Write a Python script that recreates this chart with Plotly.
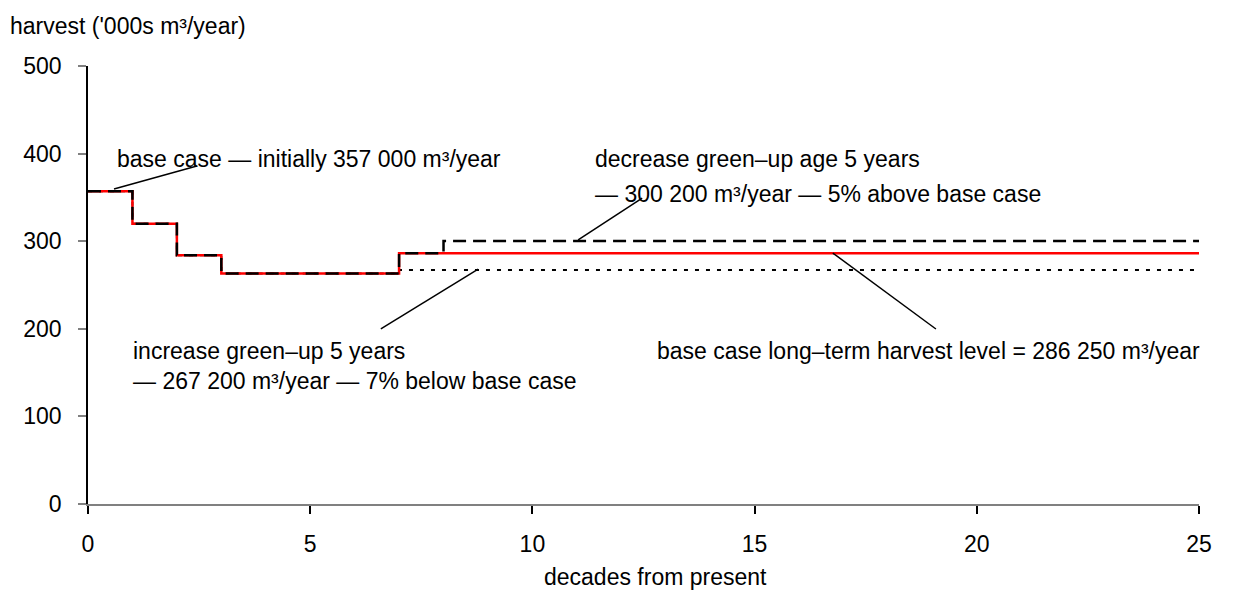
import plotly.graph_objects as go

# Decade breakpoints (start of each period; last point closes the horizon)
decades = [0, 1, 2, 3, 7, 8, 25]
base_case = [357, 320, 284, 263, 286.25, 286.25, 286.25]
decrease_greenup = [357, 320, 284, 263, 286.25, 300.2, 300.2]
increase_greenup = [357, 320, 284, 263, 267.2, 267.2, 267.2]

x_ticks = [0, 5, 10, 15, 20, 25]
y_ticks = [0, 100, 200, 300, 400, 500]

FONT = "Liberation Sans, Arial, sans-serif"
FS = 23

fig = go.Figure()
fig.add_trace(go.Scatter(x=decades, y=increase_greenup, mode="lines", line_shape="hv",
                         line=dict(color="black", width=2, dash="4px,7px"),
                         name="increase green-up", showlegend=False))
fig.add_trace(go.Scatter(x=decades, y=base_case, mode="lines", line_shape="hv",
                         line=dict(color="#ff0000", width=2.5),
                         name="base case", showlegend=False))
fig.add_trace(go.Scatter(x=decades, y=decrease_greenup, mode="lines", line_shape="hv",
                         line=dict(color="black", width=2.5, dash="13px,7px"),
                         name="decrease green-up", showlegend=False))

# leader lines (data coordinates)
leaders = [
    (0.585, 359.6, 2.45, 385.8),
    (11.03, 301.4, 12.47, 349.3),
    (6.59, 199.8, 8.78, 268.0),
    (16.76, 286.5, 19.08, 199.8),
]
for x0, y0, x1, y1 in leaders:
    fig.add_shape(type="line", xref="x", yref="y", x0=x0, y0=y0, x1=x1, y1=y1,
                  line=dict(color="black", width=1.5))

texts = [
    (0.61, 393.8, "base case \u2014 initially 357 000 m\u00b3/year"),
    (11.36, 393.8, "decrease green\u2013up age 5 years"),
    (11.36, 353.9, "\u2014 300 200 m\u00b3/year \u2014 5% above base case"),
    (0.97, 174.7, "increase green\u2013up 5 years"),
    (0.97, 140.4, "\u2014 267 200 m\u00b3/year \u2014 7% below base case"),
    (12.76, 174.7, "base case long\u2013term harvest level = 286 250 m\u00b3/year"),
]
for x, y, t in texts:
    fig.add_annotation(x=x, y=y, xref="x", yref="y", text=t, showarrow=False,
                       xanchor="left", yanchor="middle",
                       font=dict(family=FONT, size=FS, color="black"))

fig.add_annotation(x=0, y=1, xref="paper", yref="paper", xshift=-80, yshift=40,
                   text="harvest ('000s m\u00b3/year)", showarrow=False,
                   xanchor="left", yanchor="middle",
                   font=dict(family=FONT, size=FS, color="black"))
fig.add_annotation(x=0.5, y=0, xref="paper", yref="paper", yshift=-73, xshift=12,
                   text="decades from present", showarrow=False,
                   xanchor="center", yanchor="middle",
                   font=dict(family=FONT, size=FS, color="black"))

fig.update_layout(
    width=1243, height=598,
    margin=dict(l=80, r=52, t=58, b=102),
    paper_bgcolor="white", plot_bgcolor="white",
    font=dict(family=FONT, size=FS, color="black"),
    xaxis=dict(range=[0, 25], tickvals=x_ticks, showgrid=False, zeroline=False,
               showline=True, linecolor="#808080", linewidth=2,
               ticks="outside", ticklen=8, tickcolor="black", tickwidth=1.5,
               ticklabelstandoff=10, fixedrange=True),
    yaxis=dict(range=[0, 500], tickvals=y_ticks, showgrid=False, zeroline=False,
               showline=True, linecolor="black", linewidth=1.5,
               ticks="outside", ticklen=8, tickcolor="#808080", tickwidth=1.5,
               ticklabelstandoff=12, fixedrange=True),
)

fig.write_html("out.html")
